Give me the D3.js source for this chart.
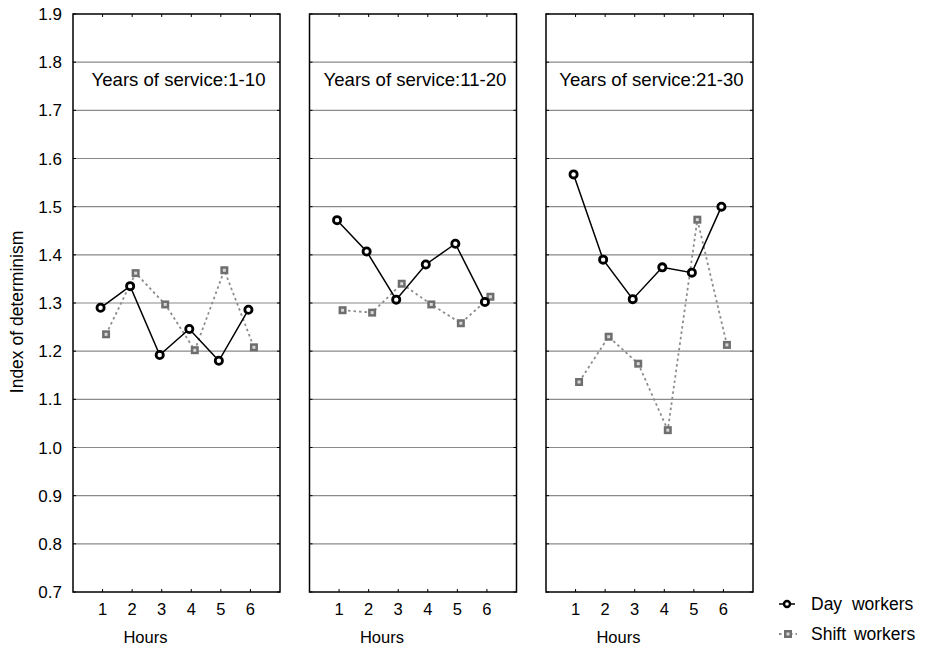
<!DOCTYPE html>
<html><head><meta charset="utf-8">
<script src="https://cdn.jsdelivr.net/npm/d3@7"></script>
<style>body{margin:0;background:#fff}text{font-family:"Liberation Sans",Arial,sans-serif;fill:#000}</style>
</head><body><svg id="c" width="925" height="648"></svg>
<script>
const hours = [1,2,3,4,5,6];
const panels = ["Years of service:1-10","Years of service:11-20","Years of service:21-30"];
const dayWorkers = [
  [1.290,1.335,1.192,1.246,1.180,1.286],
  [1.472,1.407,1.307,1.380,1.423,1.302],
  [1.567,1.390,1.308,1.374,1.363,1.500]
];
const shiftWorkers = [
  [1.235,1.362,1.297,1.202,1.368,1.208],
  [1.285,1.280,1.340,1.297,1.258,1.313],
  [1.136,1.230,1.174,1.036,1.473,1.213]
];
const yTicks = [0.7,0.8,0.9,1.0,1.1,1.2,1.3,1.4,1.5,1.6,1.7,1.8,1.9];

(function(){
const svg = d3.select("#c");
const yTop = 14, yBot = 592, pw = 207;
const lefts = [73, 309.5, 546];
const y = d3.scaleLinear().domain([0.7,1.9]).range([yBot, yTop]);
const x = d3.scaleLinear().domain([0,7]).range([0,pw]);

svg.append("g").selectAll("text").data(yTicks).join("text")
  .attr("x", 62).attr("y", d=>y(d)).attr("dy","0.36em")
  .attr("text-anchor","end").style("font-size","17px")
  .text(d=>d.toFixed(1));

svg.append("text").attr("transform","translate(23,312) rotate(-90)")
  .attr("text-anchor","middle").style("font-size","17.5px").text("Index of determinism");

panels.forEach((title,i)=>{
  const g = svg.append("g").attr("transform",`translate(${lefts[i]},0)`);
  g.selectAll("line.grid").data(yTicks.slice(1,-1)).join("line")
    .attr("x1",0).attr("x2",pw).attr("y1",d=>y(d)).attr("y2",d=>y(d))
    .attr("stroke","#8a8a8a").attr("stroke-width",1.2);
  g.selectAll("line.tl").data(yTicks).join("line")
    .attr("x1",0).attr("x2",3).attr("y1",d=>y(d)).attr("y2",d=>y(d)).attr("stroke","#000");
  g.selectAll("line.tr").data(yTicks).join("line")
    .attr("x1",pw-3).attr("x2",pw).attr("y1",d=>y(d)).attr("y2",d=>y(d)).attr("stroke","#000");
  g.selectAll("line.xb").data(hours).join("line")
    .attr("x1",d=>x(d)).attr("x2",d=>x(d)).attr("y1",yBot).attr("y2",yBot-3).attr("stroke","#000");
  g.selectAll("line.xt").data(hours).join("line")
    .attr("x1",d=>x(d)).attr("x2",d=>x(d)).attr("y1",yTop).attr("y2",yTop+3).attr("stroke","#000");
  g.append("rect").attr("x",0).attr("y",yTop).attr("width",pw).attr("height",yBot-yTop)
    .attr("fill","none").attr("stroke","#000").attr("stroke-width",1.5);
  g.selectAll("text.xl").data(hours).join("text")
    .attr("x",d=>x(d)).attr("y",615).attr("text-anchor","middle").style("font-size","16.5px").text(d=>d);
  g.append("text").attr("x",x(2.45)).attr("y",643).attr("text-anchor","middle").style("font-size","16.5px").text("Hours");
  g.append("text").attr("x",pw/2+2).attr("y",86).attr("text-anchor","middle").style("font-size","18.6px").text(title);

  const sx = d=>x(d)+3.5, dx = d=>x(d)-2;
  const sData = hours.map((h,j)=>[h, shiftWorkers[i][j]]);
  const dData = hours.map((h,j)=>[h, dayWorkers[i][j]]);
  g.append("path").datum(sData)
    .attr("d", d3.line().x(d=>sx(d[0])).y(d=>y(d[1])))
    .attr("fill","none").attr("stroke","#8c8c8c").attr("stroke-width",1.8).attr("stroke-dasharray","2.5,3");
  g.append("path").datum(dData)
    .attr("d", d3.line().x(d=>dx(d[0])).y(d=>y(d[1])))
    .attr("fill","none").attr("stroke","#000").attr("stroke-width",1.5);
  g.selectAll("rect.s").data(sData).join("rect")
    .attr("x",d=>sx(d[0])-4).attr("y",d=>y(d[1])-4).attr("width",8).attr("height",8).attr("fill","#6e6e6e");
  g.selectAll("rect.si").data(sData).join("rect")
    .attr("x",d=>sx(d[0])-1.5).attr("y",d=>y(d[1])-1.5).attr("width",3).attr("height",3).attr("fill","#d8d8d8");
  g.selectAll("circle.d").data(dData).join("circle")
    .attr("cx",d=>dx(d[0])).attr("cy",d=>y(d[1])).attr("r",3.6)
    .attr("fill","#fff").attr("stroke","#000").attr("stroke-width",2.8);
});

const lg = svg.append("g");
lg.append("line").attr("x1",779).attr("x2",795).attr("y1",604).attr("y2",604).attr("stroke","#000").attr("stroke-width",1.5);
lg.append("circle").attr("cx",787).attr("cy",604).attr("r",3).attr("fill","#fff").attr("stroke","#000").attr("stroke-width",2.4);
lg.append("text").attr("x",811).attr("y",610).style("font-size","17.5px").style("word-spacing","5px").text("Day workers");
lg.append("line").attr("x1",779).attr("x2",797).attr("y1",634).attr("y2",634).attr("stroke","#8c8c8c").attr("stroke-width",1.8).attr("stroke-dasharray","2.5,3");
lg.append("rect").attr("x",784).attr("y",630).attr("width",8).attr("height",8).attr("fill","#6e6e6e");
lg.append("rect").attr("x",786.5).attr("y",632.5).attr("width",3).attr("height",3).attr("fill","#d8d8d8");
lg.append("text").attr("x",811).attr("y",640).style("font-size","17.5px").style("word-spacing","3px").text("Shift workers");
})();
</script></body></html>
